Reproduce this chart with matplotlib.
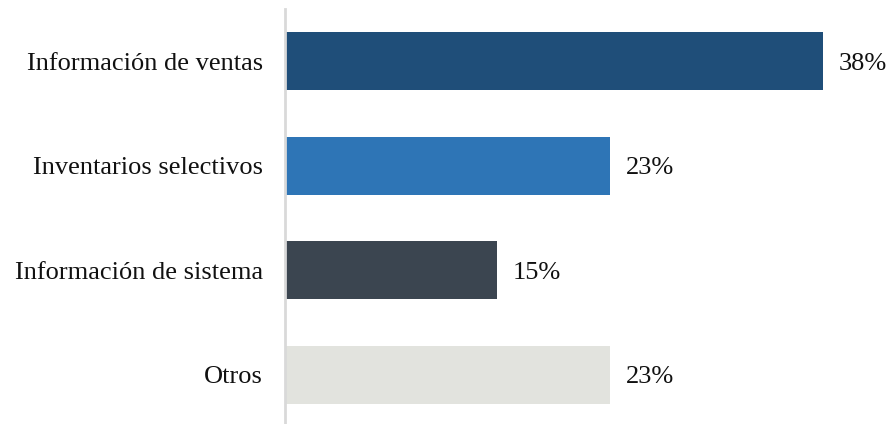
import matplotlib.pyplot as plt

categories = ['Información de ventas', 'Inventarios selectivos',
              'Información de sistema', 'Otros']
values = [38, 23, 15, 23]
colors = ['#1f4e79', '#2e75b6', '#3b4550', '#e2e3de']

plt.rcParams['font.family'] = ['Liberation Serif', 'DejaVu Serif']

fig = plt.figure(figsize=(8.89, 4.24), dpi=100)
ax = fig.add_axes([285 / 889, 0, 604 / 889, 415 / 424])

pos = range(len(categories))
ax.barh(pos, values, height=0.555, color=colors)
ax.set_ylim(3.47, -0.5)
ax.set_xlim(0, 604 / 14.15)

for p, v in zip(pos, values):
    ax.text(v + 1.1, p, f'{v}%', va='center_baseline', ha='left',
            fontsize=19, color='#111111')

ax.set_yticks(list(pos), labels=categories, fontsize=19, color='#111111')
for lbl in ax.get_yticklabels():
    lbl.set_verticalalignment('center_baseline')
ax.tick_params(axis='y', length=0, pad=16)
ax.set_xticks([])
for side in ['top', 'right', 'bottom']:
    ax.spines[side].set_visible(False)
ax.spines['left'].set_color('#d9d9d9')
ax.spines['left'].set_linewidth(2)

fig.savefig('out.png', dpi=100)
